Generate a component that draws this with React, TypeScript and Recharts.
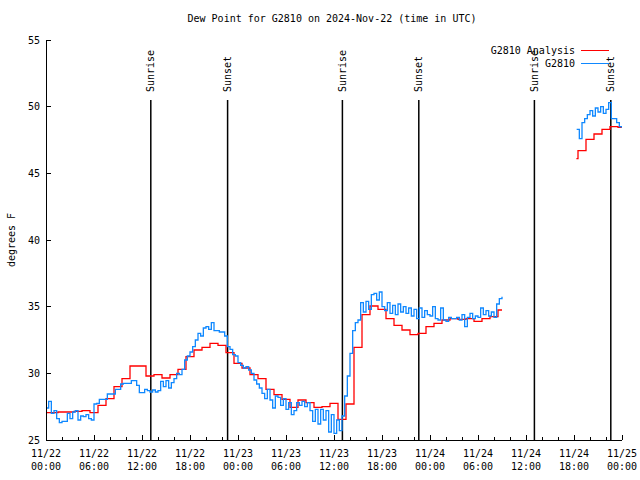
import React from 'react';
import { LineChart, Line, XAxis, YAxis, ReferenceLine, Legend } from 'recharts';

const FONT = '"DejaVu Sans Mono", "Liberation Mono", monospace';
const RED = '#ff0000';
const BLUE = '#0f88ff';

const seriesNames = ['G2810 Analysis', 'G2810'];

// G2810 station obs, one value every 20 min from 11/22 00:00 up to 11/24 09:00
const obsStep = 1 / 3;
const obsDay = [
  27.4, 27.9, 27.0, 27.2, 26.6, 26.3, 26.4, 26.4, 27.0, 26.6, 27.1, 27.2, // 00-03
  26.5, 26.8, 26.75, 26.9, 26.6, 26.5, 27.7, 27.75, 28.05, 28.05, 28.05, 28.45, // 04-07
  28.45, 28.45, 28.8, 28.8, 29.2, 29.25, 29.25, 29.25, 29.45, 29.45, 29.1, 28.55, // 08-11
  28.55, 28.8, 28.7, 28.6, 28.75, 28.6, 28.7, 29.4, 29.0, 29.45, 28.9, 29.3, // 12-15
  29.6, 30.0, 29.9, 30.3, 31.0, 31.3, 31.6, 32.0, 32.5, 33.0, 32.8, 33.4, // 16-19
  33.5, 33.3, 33.8, 33.2, 33.2, 33.1, 33.1, 32.8, 32.0, 31.8, 31.4, 31.3, // 20-23
  30.8, 30.6, 30.4, 30.5, 30.25, 30.0, 29.5, 29.2, 28.9, 28.5, 28.1, 28.8, // 24-27
  28.0, 27.4, 28.3, 28.2, 27.6, 28.1, 27.3, 27.8, 26.9, 27.2, 27.8, 27.6, // 28-31
  27.9, 27.5, 27.8, 27.2, 26.4, 27.3, 26.2, 27.3, 26.5, 27.2, 25.6, 26.9, // 32-35
  25.5, 26.5, 25.7, 26.8, 28.3, 29.8, 31.5, 33.2, 33.8, 34.0, 35.3, 34.6, // 36-39
  35.4, 34.8, 35.9, 36.0, 35.5, 36.1, 35.0, 34.7, 35.3, 34.5, 35.1, 34.4, // 40-43
  35.2, 34.6, 35.0, 34.5, 34.9, 34.3, 34.8, 34.1, 34.9, 34.2, 34.7, 34.4, // 44-47
  34.3, 35.0, 34.1, 34.0, 34.9, 34.0, 33.9, 34.2, 34.1, 34.1, 34.2, 34.0, // 48-51
  34.4, 33.5, 34.2, 34.5, 34.1, 34.3, 34.2, 34.9, 34.4, 34.7, 34.3, 34.6, // 52-55
  34.2, 35.2, 35.6, // 56
];
const obsDayEndHour = 57;
const obsDayEndValue = 35.75;
// obs again from 11/24 18:20
const obsLateStart = 66 + 1 / 3;
const obsLate = [
  48.3, 47.6, 48.8, 49.1, 49.4, 49.7, 49.3, 49.9, 49.6,
  50.0, 49.5, 49.8, 50.3, 49.1, 49.1, 48.8, 48.5, 48.4,
];

// hourly analysis, each value holds from half past the previous hour
const analysisDay = [
  27.05, 27.05, 27.1, 27.1, 27.15, 27.2, 27.05, 27.6, 28.1, 29.0, 29.6, 30.55,
  30.55, 29.8, 29.9, 29.65, 29.9, 30.3, 31.25, 31.75, 31.95, 32.25, 32.1, 31.55,
  30.75, 30.4, 29.9, 29.6, 28.8, 28.4, 28.05, 27.45, 28.0, 27.8, 27.45, 27.5,
  27.75, 26.55, 27.7, 31.95, 34.4, 35.05, 34.8, 34.1, 33.6, 33.25, 32.9, 33.0,
  33.5, 33.75, 34.0, 34.1, 34.05, 34.1, 33.9, 34.1, 34.25, 34.75,
];
const analysisDayEnd = 57;
const analysisLateHours = [66.3, 66.5, 67.5, 68.5, 69.5, 70.5, 71.5, 72];
const analysisLate = [46.1, 46.7, 47.55, 47.95, 48.3, 48.5, 48.45, 48.45];

const sunHours = [13.1, 22.7, 37.05, 46.6, 61.05, 70.6];
const sunLabels = ['Sunrise', 'Sunset', 'Sunrise', 'Sunset', 'Sunrise', 'Sunset'];

const xTickHours = [0, 6, 12, 18, 24, 30, 36, 42, 48, 54, 60, 66, 72];
const xTickDates = ['11/22', '11/22', '11/22', '11/22', '11/23', '11/23', '11/23', '11/23', '11/24', '11/24', '11/24', '11/24', '11/25'];
const xTickTimes = ['00:00', '06:00', '12:00', '18:00', '00:00', '06:00', '12:00', '18:00', '00:00', '06:00', '12:00', '18:00', '00:00'];
const yTicks = [25, 30, 35, 40, 45, 50, 55];

const allXTicks = Array.from({ length: 37 }, (_, i) => i * 2);

const obsData = [
  ...obsDay.map((v, i) => ({ h: i * obsStep, v })),
  { h: obsDayEndHour, v: obsDayEndValue },
  { h: 61, v: null },
  ...obsLate.map((v, i) => ({ h: obsLateStart + i * obsStep, v })),
];

const analysisData = [
  ...analysisDay.map((v, k) => ({ h: Math.max(0, k - 0.5), v })),
  { h: analysisDayEnd, v: analysisDay[analysisDay.length - 1] },
  { h: 61, v: null },
  ...analysisLate.map((v, i) => ({ h: analysisLateHours[i], v })),
];

function BottomTick({ x, y, payload }: any) {
  const h = payload.value;
  const i = xTickHours.indexOf(h);
  const major = i >= 0;
  return (
    <g>
      <line x1={x} x2={x} y1={y} y2={y - (major ? 5 : 3)} stroke="#000" shapeRendering="crispEdges" />
      {major && (
        <text textAnchor="middle" fontFamily={FONT} fontSize={10} fill="#000">
          <tspan x={x} y={y + 17}>{xTickDates[i]}</tspan>
          <tspan x={x} y={y + 30}>{xTickTimes[i]}</tspan>
        </text>
      )}
    </g>
  );
}

function TopTick({ x, y, payload }: any) {
  const major = xTickHours.includes(payload.value);
  return <line x1={x} x2={x} y1={y} y2={y + (major ? 5 : 3)} stroke="#000" shapeRendering="crispEdges" />;
}

function LeftTick({ x, y, payload }: any) {
  return (
    <g>
      <line x1={x} x2={x + 5} y1={y} y2={y} stroke="#000" shapeRendering="crispEdges" />
      <text x={x - 6} y={y + 3.5} textAnchor="end" fontFamily={FONT} fontSize={10} fill="#000">
        {payload.value}
      </text>
    </g>
  );
}

function RightTick({ x, y }: any) {
  return <line x1={x} x2={x - 5} y1={y} y2={y} stroke="#000" shapeRendering="crispEdges" />;
}

function SunLabel({ viewBox, text }: any) {
  const x = viewBox.x;
  const y = viewBox.y - 8;
  return (
    <text
      x={x}
      y={y}
      transform={`rotate(-90 ${x} ${y})`}
      textAnchor="start"
      dominantBaseline="central"
      fontFamily={FONT}
      fontSize={10}
      fill="#000"
    >
      {text}
    </text>
  );
}

function KeyBox({ payload }: any) {
  const items = [...(payload || [])].sort(
    (a: any, b: any) => seriesNames.indexOf(a.value) - seriesNames.indexOf(b.value)
  );
  return (
    <div style={{ fontFamily: FONT, fontSize: 10, color: '#000' }}>
      {items.map((p: any) => (
        <div key={p.value} style={{ display: 'flex', justifyContent: 'flex-end', alignItems: 'center', height: 13 }}>
          <span style={{ whiteSpace: 'pre' }}>{p.value}</span>
          <span style={{ width: 28, height: 0, borderTop: `1px solid ${p.color}`, marginLeft: 6, marginRight: 3 }} />
        </div>
      ))}
    </div>
  );
}

export default function App() {
  return (
    <div style={{ position: 'absolute', left: 0, top: 0, width: 640, height: 480, background: '#fff' }}>
      <div
        style={{
          position: 'absolute',
          left: 332,
          top: 13,
          transform: 'translateX(-50%)',
          whiteSpace: 'nowrap',
          fontFamily: FONT,
          fontSize: 10,
          color: '#000',
        }}
      >
        Dew Point for G2810 on 2024-Nov-22 (time in UTC)
      </div>
      <LineChart width={640} height={480} margin={{ top: 40, right: 18, bottom: 0, left: 0 }}>
        <XAxis
          dataKey="h"
          type="number"
          domain={[0, 72]}
          ticks={allXTicks}
          interval={0}
          height={40}
          tickSize={0}
          tickMargin={0}
          tickLine={false}
          axisLine={{ stroke: '#000', shapeRendering: 'crispEdges' }}
          tick={<BottomTick />}
          allowDataOverflow
        />
        <XAxis
          xAxisId="top"
          orientation="top"
          type="number"
          domain={[0, 72]}
          ticks={allXTicks}
          interval={0}
          height={0}
          tickSize={0}
          tickMargin={0}
          tickLine={false}
          axisLine={{ stroke: '#000', shapeRendering: 'crispEdges' }}
          tick={<TopTick />}
          allowDataOverflow
        />
        <YAxis
          type="number"
          domain={[25, 55]}
          ticks={yTicks}
          interval={0}
          width={46}
          tickSize={0}
          tickMargin={0}
          tickLine={false}
          axisLine={{ stroke: '#000', shapeRendering: 'crispEdges' }}
          tick={<LeftTick />}
          allowDataOverflow
          label={() => (
            <text
              x={11}
              y={240}
              transform="rotate(-90 11 240)"
              textAnchor="middle"
              dominantBaseline="central"
              fontFamily={FONT}
              fontSize={10}
              fill="#000"
            >
              degrees F
            </text>
          )}
        />
        <YAxis
          yAxisId="right"
          orientation="right"
          type="number"
          domain={[25, 55]}
          ticks={yTicks}
          interval={0}
          width={0}
          tickSize={0}
          tickMargin={0}
          tickLine={false}
          axisLine={{ stroke: '#000', shapeRendering: 'crispEdges' }}
          tick={<RightTick />}
          allowDataOverflow
        />
        {sunHours.map((h, i) => (
          <ReferenceLine
            key={i}
            segment={[{ x: h, y: 25 }, { x: h, y: 50.5 }]}
            stroke="#000"
            strokeWidth={1.5}
            label={(props: any) => <SunLabel {...props} text={sunLabels[i]} />}
          />
        ))}
        <Line
          data={analysisData}
          dataKey="v"
          name={seriesNames[0]}
          type="stepAfter"
          stroke={RED}
          strokeWidth={1.3}
          dot={false}
          isAnimationActive={false}
        />
        <Line
          data={obsData}
          dataKey="v"
          name={seriesNames[1]}
          type="stepAfter"
          stroke={BLUE}
          strokeWidth={1.3}
          dot={false}
          isAnimationActive={false}
        />
        <Legend
          layout="vertical"
          align="center"
          verticalAlign="middle"
          content={<KeyBox />}
          wrapperStyle={{ top: 43.5, left: 440, width: 172, bottom: 'auto', right: 'auto' }}
        />
      </LineChart>
    </div>
  );
}
